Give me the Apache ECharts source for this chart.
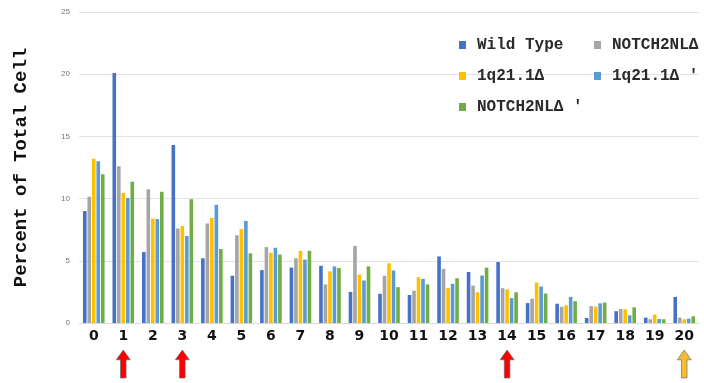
<!DOCTYPE html>
<html>
<head>
<meta charset="utf-8">
<script src="https://cdn.jsdelivr.net/npm/echarts@6/dist/echarts.min.js"></script>
<style>html,body{margin:0;padding:0;background:#fff}#c{width:704px;height:383px}</style>
</head>
<body>
<div id="c"></div>
<script>
var categories = ['0','1','2','3','4','5','6','7','8','9','10','11','12','13','14','15','16','17','18','19','20'];
var wildType    = [9.0, 20.1, 5.7, 14.3, 5.2, 3.8, 4.25, 4.45, 4.6, 2.5, 2.35, 2.25, 5.35, 4.1, 4.9, 1.6, 1.55, 0.4, 0.95, 0.43, 2.1];
var notchDel    = [10.15, 12.6, 10.75, 7.6, 8.0, 7.05, 6.1, 5.2, 3.1, 6.2, 3.8, 2.6, 4.35, 3.0, 2.8, 1.95, 1.3, 1.35, 1.12, 0.3, 0.43];
var q21Del      = [13.2, 10.45, 8.4, 7.8, 8.45, 7.55, 5.65, 5.8, 4.15, 3.9, 4.8, 3.68, 2.8, 2.47, 2.7, 3.25, 1.42, 1.32, 1.1, 0.67, 0.3];
var q21DelP     = [13.0, 10.05, 8.35, 7.0, 9.5, 8.2, 6.05, 5.1, 4.55, 3.42, 4.22, 3.55, 3.15, 3.82, 2.0, 2.93, 2.1, 1.58, 0.62, 0.32, 0.35];
var notchDelP   = [11.95, 11.35, 10.55, 9.95, 5.95, 5.6, 5.5, 5.8, 4.42, 4.55, 2.88, 3.1, 3.6, 4.45, 2.47, 2.37, 1.75, 1.64, 1.26, 0.3, 0.54];
var seriesNames = ['Wild Type', 'NOTCH2NLΔ', '1q21.1Δ', '1q21.1Δ \'', 'NOTCH2NLΔ \''];
var yTicks = [0, 5, 10, 15, 20, 25];
var redArrowCats = ['1', '3', '14'];
var goldArrowCats = ['20'];

var colors = ['#4472C4', '#A5A5A5', '#FFC000', '#5B9BD5', '#70AD47'];
var allData = [wildType, notchDel, q21Del, q21DelP, notchDelP];
var arrowPath = 'path://M5,0 L10,7 L7,7 L7,20 L3,20 L3,7 L0,7 Z';

var chart = echarts.init(document.getElementById('c'), null, {renderer: 'canvas'});
var series = allData.map(function (d, i) {
  return {
    name: seriesNames[i], type: 'bar', data: d,
    xAxisIndex: 0, yAxisIndex: 0,
    barWidth: 3.6, barGap: '25%',
    itemStyle: {color: colors[i]}
  };
});
function arrowSeries(cats, color) {
  return {
    type: 'scatter', xAxisIndex: 1, yAxisIndex: 1,
    data: cats.map(function (c) { return [c, 0.5]; }),
    symbol: arrowPath, symbolSize: [14, 28],
    itemStyle: {color: color, borderColor: '#666', borderWidth: 0.6, opacity: 1},
    silent: true
  };
}
series.push(arrowSeries(redArrowCats, '#FF0000'));
series.push(arrowSeries(goldArrowCats, '#F2BD35'));

var legendText = {fontFamily: 'Liberation Mono', fontWeight: 'bold', fontSize: 16, color: '#2a2a2a', lineHeight: 16, padding: [0, 0, 0, 6]};
chart.setOption({
  animation: false,
  backgroundColor: '#fff',
  legend: [
    {data: [seriesNames[0], seriesNames[2], seriesNames[4]], orient: 'vertical', left: 454, top: 32,
     itemWidth: 7, itemHeight: 8, itemGap: 15, icon: 'rect', textStyle: legendText},
    {data: [seriesNames[1], seriesNames[3]], orient: 'vertical', left: 589, top: 32,
     itemWidth: 7, itemHeight: 8, itemGap: 15, icon: 'rect', textStyle: legendText}
  ],
  grid: [
    {left: 79, right: 5, top: 12, bottom: 60},
    {left: 79, right: 5, top: 348, height: 32}
  ],
  xAxis: [
    {type: 'category', data: categories, gridIndex: 0,
     axisLine: {show: true, lineStyle: {color: '#d9d9d9'}},
     axisTick: {show: false},
     axisLabel: {fontFamily: 'DejaVu Sans', fontWeight: 'bold', fontSize: 14, color: '#111', margin: 6, interval: 0}},
    {type: 'category', data: categories, gridIndex: 1, show: false}
  ],
  yAxis: [
    {type: 'value', gridIndex: 0, min: yTicks[0], max: yTicks[yTicks.length - 1], interval: 5,
     name: 'Percent of Total Cell', nameLocation: 'middle', nameGap: 48,
     nameTextStyle: {fontFamily: 'Liberation Mono', fontWeight: 'bold', fontSize: 19, color: '#111'},
     axisLine: {show: false}, axisTick: {show: false},
     axisLabel: {fontSize: 8, color: '#777', margin: 9},
     splitLine: {lineStyle: {color: '#e3e3e3'}}},
    {type: 'value', gridIndex: 1, min: 0, max: 1, show: false}
  ],
  series: series
});
</script>
</body>
</html>
